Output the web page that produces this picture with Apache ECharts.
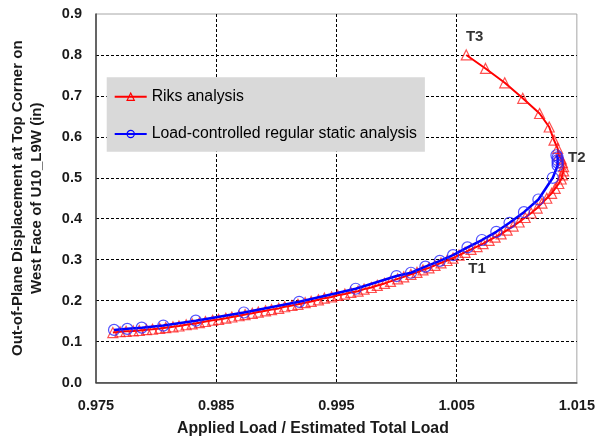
<!DOCTYPE html>
<html>
<head>
<meta charset="utf-8">
<script src="https://cdn.jsdelivr.net/npm/echarts@6/dist/echarts.min.js"></script>
<style>
  html, body { margin: 0; padding: 0; background: #fff; }
  #chart { width: 598px; height: 439px; }
</style>
</head>
<body>
<div id="chart"></div>
<script>
// Riks analysis (load ratio, displacement in) - goes up to T2 then snaps back to T3
const riksLoad = [
  0.9764, 0.9770, 0.9775, 0.9781, 0.9786, 0.9792, 0.9797, 0.9803, 0.9808, 0.9814,
  0.9819, 0.9825, 0.9830, 0.9836, 0.9841, 0.9847, 0.9852, 0.9858, 0.9863, 0.9869,
  0.9874, 0.9880, 0.9885, 0.9891, 0.9896, 0.9902, 0.9907, 0.9913, 0.9918, 0.9924,
  0.9929, 0.9935, 0.9940, 0.9946, 0.9951, 0.9957, 0.9962, 0.9968, 0.9973, 0.9979,
  0.9984, 0.9990, 0.9995, 1.0001, 1.0006, 1.0012, 1.0017, 1.0022, 1.0027, 1.0032,
  1.0037, 1.0042, 1.0047, 1.0052, 1.0057, 1.0062, 1.0067, 1.0072, 1.0077, 1.0082,
  1.0087, 1.0092, 1.0097, 1.0102, 1.0107, 1.0112, 1.0117, 1.0121, 1.0125, 1.0129,
  1.0132, 1.0135, 1.0137, 1.0138, 1.0139, 1.0139, 1.0138, 1.0137, 1.0135, 1.0134,
  1.0131, 1.0127, 1.0119, 1.0105, 1.0090, 1.0074, 1.0058
];
const riksDisp = [
  0.122, 0.124, 0.125, 0.126, 0.127, 0.129, 0.130, 0.132, 0.134, 0.136,
  0.138, 0.141, 0.143, 0.146, 0.149, 0.152, 0.154, 0.157, 0.160, 0.163,
  0.166, 0.169, 0.172, 0.175, 0.178, 0.181, 0.185, 0.188, 0.191, 0.195,
  0.198, 0.202, 0.206, 0.209, 0.213, 0.216, 0.220, 0.223, 0.228, 0.232,
  0.237, 0.242, 0.247, 0.253, 0.258, 0.264, 0.269, 0.275, 0.280, 0.286,
  0.292, 0.298, 0.304, 0.311, 0.318, 0.325, 0.332, 0.339, 0.347, 0.355,
  0.363, 0.372, 0.382, 0.392, 0.403, 0.414, 0.426, 0.438, 0.450, 0.462,
  0.474, 0.486, 0.497, 0.507, 0.517, 0.527, 0.537, 0.546, 0.555, 0.572,
  0.592, 0.624, 0.657, 0.694, 0.732, 0.767, 0.800
];

// load-controlled regular static analysis
const staticLoad = [
  0.9765, 0.9776, 0.9788, 0.9806, 0.9833, 0.9873, 0.9919, 0.9966, 1.0000, 1.0012,
  1.0024, 1.0036, 1.0047, 1.0059, 1.0071, 1.0083, 1.0094, 1.0106, 1.0118, 1.0130,
  1.0134, 1.0134, 1.0134, 1.0134, 1.0133
];
const staticDisp = [
  0.1285, 0.131, 0.134, 0.139, 0.151, 0.171, 0.197, 0.229, 0.260, 0.268,
  0.283, 0.297, 0.311, 0.330, 0.348, 0.368, 0.390, 0.416, 0.447, 0.500,
  0.530, 0.537, 0.543, 0.550, 0.555
];

// point labels
const tagNames = ['T1', 'T2', 'T3'];
const tagLoad = [1.0067, 1.0150, 1.0065];
const tagDisp = [0.277, 0.548, 0.843];

function zipPairs(xs, ys) {
  let out = [];
  for (var i = 0; i < xs.length; i++) {
    out.push([xs[i], ys[i]]);
  }
  return out;
}

let tagData = [];
for (var i = 0; i < tagNames.length; i++) {
  tagData.push({ name: tagNames[i], value: [tagLoad[i], tagDisp[i]] });
}

const fontFamily = 'Arial, "Liberation Sans", sans-serif';
const dashed = { color: '#000', type: [3, 2], width: 1 };
const riksMarker = { color: 'rgba(255,255,255,0)', borderColor: 'rgba(255,20,20,0.75)', borderWidth: 1.2 };
const staticMarker = { color: 'rgba(255,255,255,0)', borderColor: 'rgba(40,40,255,0.8)', borderWidth: 1.2 };

var myChart = echarts.init(document.getElementById('chart'));
myChart.setOption({
  animation: false,
  title: {
    text: 'Applied Load / Estimated Total Load',
    left: 177,
    top: 421,
    padding: 0,
    textStyle: { fontFamily: fontFamily, fontWeight: 'bold', fontSize: 15.8, color: '#1a1a1a' }
  },
  legend: {
    orient: 'vertical',
    left: 106.7,
    top: 77.3,
    padding: [11.4, 8, 9.7, 7],
    itemGap: 21.3,
    itemWidth: 32,
    itemHeight: 9,
    backgroundColor: '#d9d9d9',
    data: [
      { name: 'Riks analysis', itemStyle: { color: 'rgba(0,0,0,0)', borderColor: '#ff0000', borderWidth: 1.2 } },
      { name: 'Load-controlled regular static analysis', itemStyle: { color: 'rgba(0,0,0,0)', borderColor: '#0000ff', borderWidth: 1.2 } }
    ],
    textStyle: {
      fontFamily: fontFamily,
      fontSize: 15.8,
      lineHeight: 16,
      color: '#000'
    }
  },
  grid: {
    left: 93,
    right: 20,
    top: 14,
    bottom: 56.5,
    show: true,
    borderColor: '#a6a6a6',
    borderWidth: 1
  },
  xAxis: {
    type: 'value',
    min: 0.975,
    max: 1.015,
    interval: 0.01,
    axisLine: { lineStyle: { color: '#404040', width: 1.5 } },
    axisTick: { show: false },
    axisLabel: {
      margin: 16,
      fontFamily: fontFamily,
      fontWeight: 'bold',
      fontSize: 14.5,
      color: '#1a1a1a',
      formatter: function (v) { return v.toFixed(3); }
    },
    splitLine: { show: true, showMinLine: false, showMaxLine: false, lineStyle: dashed }
  },
  yAxis: {
    type: 'value',
    min: 0,
    max: 0.9,
    interval: 0.1,
    name: 'Out-of-Plane Displacement at Top Corner on\nWest Face of U10_L9W (in)',
    nameLocation: 'middle',
    nameGap: 50,
    nameTextStyle: { fontFamily: fontFamily, fontWeight: 'bold', fontSize: 15, lineHeight: 19, color: '#1a1a1a' },
    axisLine: { lineStyle: { color: '#404040', width: 1.5 } },
    axisTick: { show: false },
    axisLabel: {
      margin: 14,
      fontFamily: fontFamily,
      fontWeight: 'bold',
      fontSize: 14.5,
      color: '#1a1a1a',
      formatter: function (v) { return v.toFixed(1); }
    },
    splitLine: { show: true, showMinLine: false, showMaxLine: false, lineStyle: dashed }
  },
  series: [
    {
      name: 'Riks analysis',
      type: 'line',
      data: zipPairs(riksLoad, riksDisp),
      symbol: 'triangle',
      symbolSize: 10,
      showAllSymbol: true,
      lineStyle: { color: '#ff0000', width: 2 },
      itemStyle: riksMarker,
      z: 2
    },
    {
      name: 'Load-controlled regular static analysis',
      type: 'line',
      data: zipPairs(staticLoad, staticDisp),
      symbol: 'circle',
      symbolSize: 11,
      showAllSymbol: true,
      lineStyle: { color: '#0000ff', width: 2.5 },
      itemStyle: staticMarker,
      z: 3
    },
    {
      type: 'scatter',
      data: tagData,
      symbolSize: 0,
      clip: false,
      silent: true,
      label: {
        show: true,
        position: 'inside',
        formatter: '{b}',
        fontFamily: fontFamily,
        fontWeight: 'bold',
        fontSize: 15,
        color: '#000'
      },
      z: 4
    }
  ]
});
</script>
</body>
</html>
